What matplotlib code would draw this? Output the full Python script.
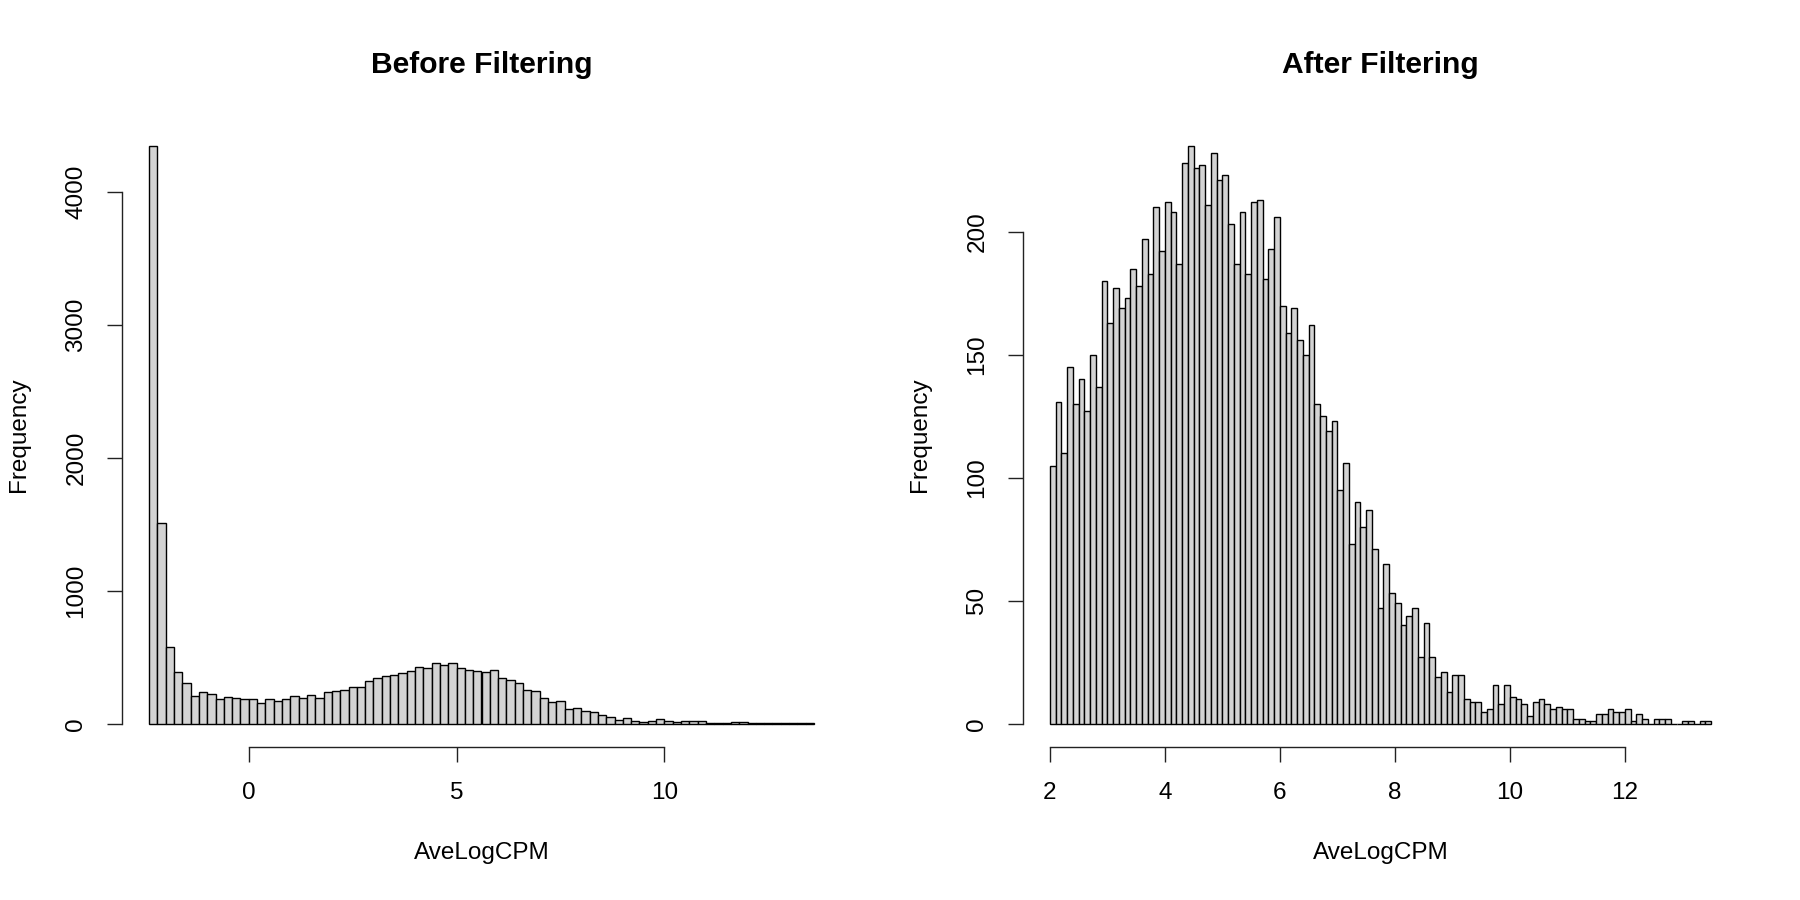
import numpy as np
import matplotlib
matplotlib.use("Agg")
import matplotlib.pyplot as plt

plt.rcParams['font.family'] = ['Liberation Sans', 'DejaVu Sans']

# ---- data ----
before_breaks = np.round(np.arange(-2.4, 13.6 + 1e-9, 0.2), 1)
before_counts = [4345, 1510, 578, 388, 305, 213, 243, 228, 188, 203,
                 198, 190, 190, 158, 185, 173, 185, 213, 198, 218,
                 198, 243, 250, 258, 278, 280, 323, 341, 358, 366,
                 383, 401, 426, 421, 461, 446, 456, 423, 403, 396,
                 393, 403, 341, 326, 310, 258, 248, 198, 165, 175,
                 115, 123, 93, 88, 68, 50, 30, 43, 23, 15,
                 25, 33, 25, 15, 23, 18, 18, 8, 5, 8,
                 13, 13, 10, 8, 5, 8, 3, 5, 3, 3]

after_breaks = np.round(np.arange(2.0, 13.5 + 1e-9, 0.1), 1)
after_counts = [105, 131, 110, 145, 130, 140, 127, 150, 137, 180,
                163, 177, 169, 173, 185, 178, 197, 183, 210, 192,
                212, 208, 187, 228, 235, 226, 227, 211, 232, 221,
                223, 203, 187, 208, 183, 212, 213, 181, 193, 206,
                170, 159, 169, 156, 150, 162, 130, 125, 119, 123,
                95, 106, 73, 90, 80, 87, 71, 47, 65, 53,
                49, 40, 44, 47, 27, 41, 27, 19, 21, 13,
                20, 20, 10, 9, 9, 5, 6, 16, 8, 16,
                11, 10, 8, 3, 9, 10, 8, 6, 7, 6,
                6, 2, 2, 1, 1, 4, 4, 6, 5, 5,
                6, 1, 4, 2, 0, 2, 2, 2, 0, 0,
                1, 1, 0, 1, 1]

before_xticks = [0, 5, 10]
before_yticks = [0, 1000, 2000, 3000, 4000]
after_xticks = [2, 4, 6, 8, 10, 12]
after_yticks = [0, 50, 100, 150, 200]

titles = ["Before Filtering", "After Filtering"]
xlab = "AveLogCPM"
ylab = "Frequency"

W, H = 1800, 900
fig = plt.figure(figsize=(18, 9), dpi=100)

FS = 24.3 * 72 / 100        # ~24 px
FS_T = 30 * 72 / 100        # title
TICK_LEN = 15 * 72 / 100
PAD = 31 * 72 / 100

def panel(rect_px, breaks, counts, xticks, yticks, title):
    l, r, t, b = rect_px
    ax = fig.add_axes([l / W, 1 - b / H, (r - l) / W, (b - t) / H])
    breaks = np.asarray(breaks)
    widths = np.diff(breaks)
    ax.bar(breaks[:-1], counts, width=widths, align='edge',
           color='#d3d3d3', edgecolor='black', linewidth=1.0)
    x0, x1 = breaks[0], breaks[-1]
    dx = (x1 - x0) * 0.04
    ymax = max(counts)
    ax.set_xlim(x0 - dx, x1 + dx)
    ax.set_ylim(-ymax * 0.04, ymax * 1.04)
    for s in ['top', 'right']:
        ax.spines[s].set_visible(False)
    ax.spines['left'].set_bounds(yticks[0], yticks[-1])
    ax.spines['bottom'].set_bounds(xticks[0], xticks[-1])
    for s in ['left', 'bottom']:
        ax.spines[s].set_linewidth(1.0)
        ax.spines[s].set_color('#222222')
    ax.set_xticks(xticks)
    ax.set_yticks(yticks)
    ax.set_xticklabels([str(v) for v in xticks])
    ax.set_yticklabels([str(v) for v in yticks])
    ax.tick_params(direction='out', length=TICK_LEN, width=1.0, color='#222222',
                   labelsize=FS, pad=PAD)
    for lab in ax.get_xticklabels():
        lab.set_va('center')
    for lab in ax.get_yticklabels():
        lab.set_rotation(90)
        lab.set_ha('center')
        lab.set_va('center')
    axw = r - l
    axh = b - t
    ax.set_xlabel(xlab, fontsize=FS, va='center', ha='center')
    ax.xaxis.set_label_coords(0.5, -106 / axh)
    ax.set_ylabel(ylab, fontsize=FS, va='center', ha='center')
    ax.yaxis.set_label_coords(-103.5 / axw, 0.5)
    ax.set_title(title, fontsize=FS_T, fontweight='bold', y=(b - 65) / axh,
                 va='center', pad=0)
    return ax

panel((122.4, 840.6, 122.5, 747.0), before_breaks, before_counts,
      before_xticks, before_yticks, titles[0])
panel((1023.5, 1737.7, 122.5, 747.0), after_breaks, after_counts,
      after_xticks, after_yticks, titles[1])

fig.savefig("out.png", dpi=100, facecolor='white')
